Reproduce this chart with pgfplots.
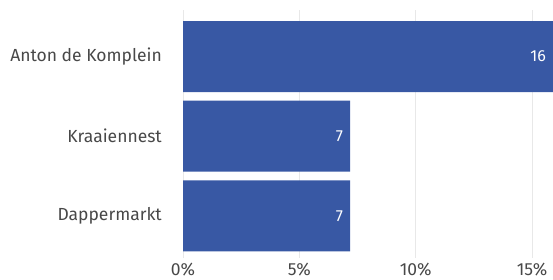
\documentclass[border=0pt]{standalone}
\usepackage{pgfplots}
\pgfplotsset{compat=1.18}
\usepackage{fontspec}
\setmainfont{Fira Sans}
\definecolor{barblue}{HTML}{3858A4}
\definecolor{txtgray}{HTML}{484848}
\definecolor{gridgray}{HTML}{E8E8E8}
\begin{document}
\begin{tikzpicture}
\useasboundingbox (0,0) rectangle (553pt,280pt);
\begin{axis}[
  at={(183pt,22pt)}, anchor=south west,
  scale only axis, width=370pt, height=248pt,
  xbar, bar width=71pt,
  xmin=0, xmax=15.9,
  ymin=-0.53, ymax=2.585,
  axis line style={draw=none},
  major tick length=0pt,
  xtick={0,5,10,15},
  xticklabels={0\%,5\%,10\%,15\%},
  ytick={0,1,2},
  yticklabels={Dappermarkt,Kraaiennest,Anton de Komplein},
  xmajorgrids=true, ymajorgrids=false,
  major grid style={draw=gridgray, line width=1pt},
  tick label style={font=\fontsize{17.5}{20}\selectfont, text=txtgray},
  yticklabel style={inner sep=0pt, xshift=-21pt},
  xticklabel style={inner sep=0pt, yshift=-5pt},
  point meta=explicit symbolic,
  nodes near coords,
  nodes near coords style={anchor=east, text=white, inner sep=0pt, xshift=-7pt, font=\fontsize{16}{19}\selectfont},
]
\addplot[fill=barblue, draw=none] table[x=x, y=y, meta=lab] {
x y lab
7.18 0 7
7.18 1 7
15.9 2 16
};
\end{axis}
\end{tikzpicture}
\end{document}
